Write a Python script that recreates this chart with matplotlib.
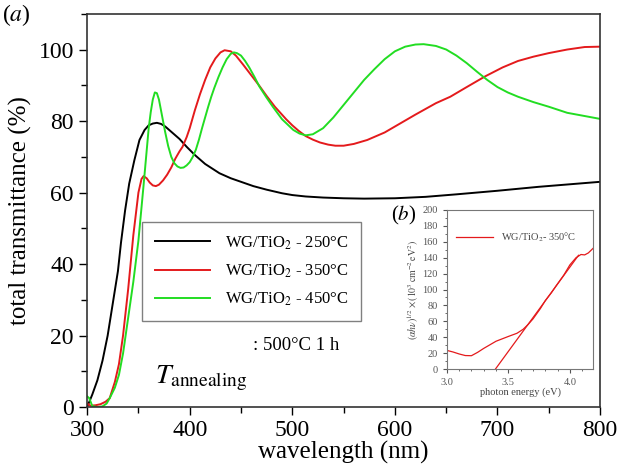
import numpy as np
import matplotlib.pyplot as plt
from matplotlib.ticker import MultipleLocator

plt.rcParams['font.family'] = 'Liberation Serif'
plt.rcParams['mathtext.fontset'] = 'stix'

# main panel: total transmittance vs wavelength
wl_250 = [300, 305, 310, 315, 320, 325, 330, 333, 337, 341, 346, 351, 356, 360, 364, 368,
          372, 376, 382, 390, 397, 405, 415, 429, 440, 450, 462, 475, 490, 500, 513, 530, 550,
          570, 600, 630, 660, 700, 740, 770, 800]
tr_250 = [0, 3.5, 7.5, 13, 20, 29, 38, 46, 55, 62.5, 69, 74.7, 77.5, 78.8, 79.3, 79.5,
          79.2, 78.5, 77, 75, 72.8, 70.5, 68, 65.4, 64, 63, 61.8, 60.8, 59.8, 59.3, 58.9, 58.6,
          58.4, 58.3, 58.4, 58.8, 59.5, 60.5, 61.6, 62.3, 63]

wl_350 = [300, 303, 308, 313, 318, 322, 327, 331, 335, 340, 345, 350, 353, 355, 358, 361, 364,
          367, 370, 374, 378, 382, 386, 390, 393, 397, 400, 405, 410, 415, 420, 425, 430, 434,
          440, 445, 452, 460, 468, 475, 483, 494, 500, 506, 513, 520, 527, 535, 542, 550, 560,
          573, 590, 605, 620, 640, 654, 670, 688, 705, 720, 735, 750, 768, 785, 800]
tr_350 = [1, 0.4, 0.5, 0.8, 1.5, 2.5, 7, 12, 20, 33, 48, 60, 63.8, 64.6, 64, 62.8, 62,
          61.8, 62.2, 63.4, 65, 67, 69.5, 71.5, 72.8, 75.5, 78, 83, 87.5, 91.5, 95, 97.5, 99.2,
          99.8, 99.5, 98.3, 95.8, 92.8, 89.8, 87, 84, 80.5, 78.8, 77.3, 75.8, 74.8, 74, 73.4,
          73.1, 73.1, 73.6, 74.7, 76.8, 79.3, 81.8, 85, 86.8, 89.5, 92.5, 95, 96.8, 98, 99,
          100, 100.7, 100.8]

wl_450 = [300, 302, 305, 310, 315, 319, 322, 327, 331, 335, 340, 345, 350, 355, 360, 362, 364,
          366, 368, 370, 373, 376, 379, 382, 385, 388, 391, 394, 397, 400, 403, 406, 409, 412,
          415, 418, 421, 424, 428, 432, 436, 440, 443, 446, 450, 454, 458, 463, 468, 475, 481,
          490, 501, 507, 513, 520, 530, 540, 550, 560, 570, 580, 590, 600, 610, 620, 628, 640,
          650, 660, 670, 680, 690, 700, 710, 720, 735, 750, 768, 785, 800]
tr_450 = [3, 2.5, 0.3, 0, 0.2, 1, 2.5, 5.4, 9, 15, 25, 35, 46.6, 62, 78, 82.5, 86,
          88, 87.8, 86, 81.5, 77, 73, 70, 68.2, 67.3, 66.9, 67, 67.6, 68.5, 70, 72, 74.8, 78,
          81, 84, 86.8, 89.3, 92.3, 95, 97.3, 98.8, 99.2, 99, 98.3, 96.8, 95, 92.4, 89.6, 86.5,
          84, 80.5, 77.5, 76.5, 76, 76.3, 78, 81, 84.5, 88, 91.5, 94.5, 97.3, 99.5, 100.8,
          101.4, 101.5, 101, 100, 98.3, 96.2, 93.8, 91.5, 89.5, 88, 86.8, 85.3, 84, 82.3,
          81.4, 80.6]

# inset: Tauc plot for the 350 C sample
ev_350 = [3.0, 3.05, 3.1, 3.15, 3.2, 3.25, 3.3, 3.35, 3.4, 3.45, 3.5, 3.57, 3.62, 3.66, 3.7,
          3.76, 3.8, 3.85, 3.89, 3.95, 4.0, 4.05, 4.09, 4.12, 4.15, 4.19]
tauc_350 = [23.5, 21.5, 19, 17, 16.8, 21, 26, 30.5, 35, 38, 41, 45, 50, 56, 63,
            76, 86, 96, 105, 118, 131, 140, 144, 143.5, 146, 152]
fit_ev = [3.395, 4.07]
fit_val = [0, 143]

fig = plt.figure(figsize=(6.18, 4.75), dpi=100)
ax = fig.add_axes([0.141, 0.143, 0.830, 0.828])

ax.plot(wl_250, tr_250, color='black', lw=1.4, label='WG/TiO$_2$ - 250°C')
ax.plot(wl_350, tr_350, color='#e41a1c', lw=1.4, label='WG/TiO$_2$ - 350°C')
ax.plot(wl_450, tr_450, color='#22dd22', lw=1.4, label='WG/TiO$_2$ - 450°C')

ax.set_xlim(300, 800)
ax.set_ylim(0, 110)
ax.xaxis.set_major_locator(MultipleLocator(100))
ax.xaxis.set_minor_locator(MultipleLocator(50))
ax.yaxis.set_major_locator(MultipleLocator(20))
ax.yaxis.set_minor_locator(MultipleLocator(10))
ax.tick_params(which='both', direction='out', top=False, right=False, labelsize=17)
ax.tick_params(which='major', length=6, width=1)
ax.tick_params(which='minor', length=4, width=1)
for s in ax.spines.values():
    s.set_color('#333333')
    s.set_linewidth(1.2)
ax.set_xlabel('wavelength (nm)', fontsize=18, labelpad=0)
ax.set_ylabel('total transmittance (%)', fontsize=18, labelpad=5)

leg = ax.legend(loc='upper left', bbox_to_anchor=(0.107, 0.471), fontsize=12,
                fancybox=False, edgecolor='gray', framealpha=1, handlelength=3.3,
                labelspacing=0.65, borderpad=0.75, handletextpad=0.9, borderaxespad=0)
leg.get_frame().set_linewidth(1)

ax.text(366, 6.5, r'$T_{\mathrm{annealing}}$', fontsize=20)
ax.text(462, 16, ': 500°C 1 h', fontsize=13.5)

fig.text(0.003, 0.955, r'($\it{a}$)', fontsize=17)

# inset
ins = fig.add_axes([0.723, 0.223, 0.237, 0.335])
ins.plot(ev_350, tauc_350, color='#e41a1c', lw=0.9, label='WG/TiO$_2$- 350°C')
ins.plot(fit_ev, fit_val, color='#e41a1c', lw=0.9)
ins.set_xlim(3.0, 4.19)
ins.set_ylim(0, 200)
ins.xaxis.set_major_locator(MultipleLocator(0.5))
ins.xaxis.set_minor_locator(MultipleLocator(0.1))
ins.yaxis.set_major_locator(MultipleLocator(20))
ins.yaxis.set_minor_locator(MultipleLocator(10))
ins.tick_params(which='both', direction='out', top=False, right=False, labelsize=7.5,
                colors='#555555')
ins.tick_params(which='major', length=3)
ins.tick_params(which='minor', length=1.5)
for s in ins.spines.values():
    s.set_color('#777777')
    s.set_linewidth(0.8)
ins.set_xlabel('photon energy (eV)', fontsize=7.5, color='#444444', labelpad=0)
ins.set_ylabel(r'$(\alpha h\nu)^{1/2}\times(10^3\,\mathrm{cm}^{-2}\,\mathrm{eV}^2)$',
               fontsize=7, color='#444444', labelpad=1)
ins.legend(loc='upper left', bbox_to_anchor=(0.0, 0.93), fontsize=7.5, frameon=False,
           handlelength=3.5, labelcolor='#444444')

fig.text(0.633, 0.535, r'($\it{b}$)', fontsize=15)

fig.savefig('out.png', dpi=100)
